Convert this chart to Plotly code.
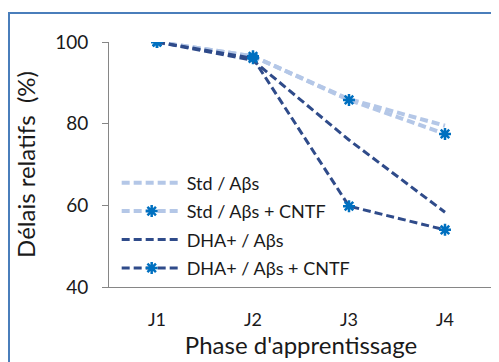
import plotly.graph_objects as go

categories = ["J1", "J2", "J3", "J4"]
std_abs = [100, 96.5, 86, 79.5]
std_abs_cntf = [100, 96.5, 85.8, 77.5]
dha_abs = [100, 95.5, 76, 58.3]
dha_abs_cntf = [100, 96, 59.8, 54]
names = ["Std / Aβs", "Std / Aβs + CNTF", "DHA+ / Aβs", "DHA+ / Aβs + CNTF"]
y_ticks = [40, 60, 80, 100]

LIGHT = "#B4C7E7"
DARK = "#2F4B8A"
MARK = "#0070C0"
FONT = "Lato"
TXT = "#1a1a1a"

fig = go.Figure()
series = [std_abs, std_abs_cntf, dha_abs, dha_abs_cntf]
styles = [
    (LIGHT, 4, False),
    (LIGHT, 4, True),
    (DARK, 3, False),
    (DARK, 3, True),
]
for i, (vals, (col, w, mk)) in enumerate(zip(series, styles)):
    fig.add_trace(go.Scatter(
        x=categories, y=vals, name=names[i],
        mode="lines+markers" if mk else "lines",
        line=dict(color=col, width=w, dash="8px,4px"),
        marker=dict(symbol="asterisk-open", size=10, color=MARK,
                    line=dict(color=MARK, width=2.5)),
        legendgroup=str(i),
    ))

PW, PH = 384, 245
L, T = 101, 34
fig.update_layout(
    width=499, height=362,
    margin=dict(l=L, r=499 - L - PW, t=T, b=362 - T - PH),
    paper_bgcolor="white", plot_bgcolor="white",
    font=dict(family=FONT, color=TXT),
    showlegend=True,
    legend=dict(
        x=0.02, y=0.50, xanchor="left", yanchor="top",
        bgcolor="rgba(0,0,0,0)", font=dict(size=18, family=FONT, color=TXT),
        traceorder="grouped", tracegroupgap=2, itemwidth=60,
    ),
    xaxis=dict(
        type="category", range=[-0.5, 3.5],
        showline=True, linecolor="#868686", linewidth=1,
        showgrid=False, ticks="", ticklabelstandoff=16,
        tickfont=dict(size=18, family=FONT, color=TXT),
        title=dict(text="Phase d'apprentissage", font=dict(size=24, family=FONT, color=TXT), standoff=1),
    ),
    yaxis=dict(
        range=[40, 100], tickvals=y_ticks,
        showline=True, linecolor="#868686", linewidth=1,
        showgrid=False, ticks="outside", ticklen=6, tickcolor="#868686",
        ticklabelstandoff=10, zeroline=False,
        tickfont=dict(size=19, family=FONT, color=TXT),
        title=dict(text="Délais relatifs  (%)", font=dict(size=24, family=FONT, color=TXT), standoff=12),
    ),
)

# outer chart border (cut off at right and bottom in the original)
fig.add_shape(type="rect", xref="paper", yref="paper",
              x0=(1 - L) / PW, x1=(520 - L) / PW,
              y0=(T + PH - 380) / PH, y1=1 + (T - 5) / PH,
              line=dict(color="#4A7EBB", width=2), fillcolor="rgba(0,0,0,0)", layer="below")

fig.write_html("out.html")
